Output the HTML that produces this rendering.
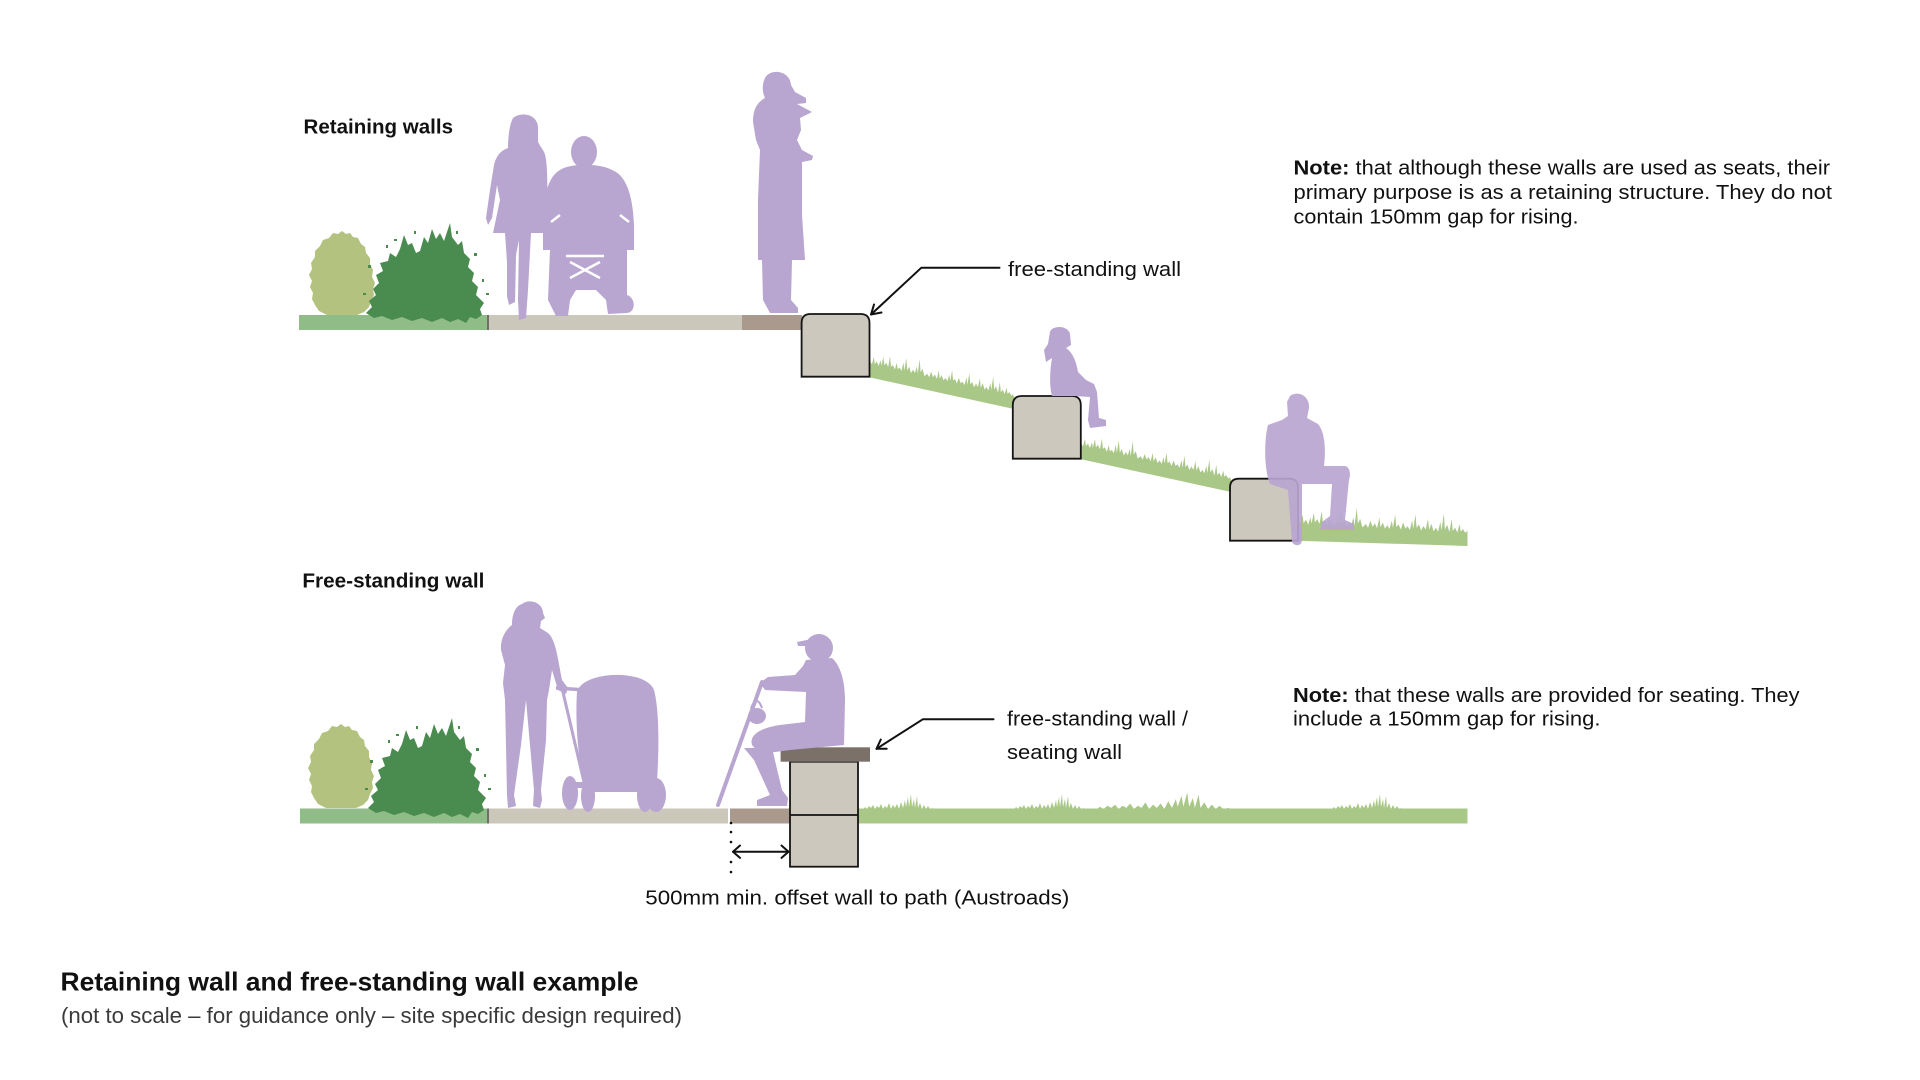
<!DOCTYPE html>
<html>
<head>
<meta charset="utf-8">
<style>
html,body{margin:0;padding:0;background:#fff;}
svg{display:block;}
text{font-family:"Liberation Sans",Arial,sans-serif;fill:#111;}
</style>
</head>
<body>
<svg width="1920" height="1080" viewBox="0 0 1920 1080" xmlns="http://www.w3.org/2000/svg">
<defs>
  <path id="g1" d="M0,2 L0,-3 L2,0 L4,-8 L5,-1 L7,-4 L9,0 L11,-6 L12,-1 L14,-10 L15,-2 L17,-5 L19,-1 L21,-12 L22,-2 L24,-4 L26,0 L28,-7 L29,-1 L31,-3 L33,0 L35,-9 L36,-1 L38,-14 L39,-2 L41,-6 L43,0 L45,-4 L47,-1 L49,-8 L50,-1 L52,-16 L53,-3 L55,-7 L57,0 L60,-3 L62,0 L64,-6 L66,-1 L68,-4 L70,0 L72,-9 L73,-1 L75,-5 L77,0 L79,-3 L81,0 L83,-7 L84,-1 L86,-12 L87,-2 L89,-4 L91,0 L93,-6 L95,-1 L97,-3 L99,0 L101,-8 L102,-1 L104,-13 L105,-2 L107,-5 L109,0 L111,-4 L113,-1 L115,-10 L116,-1 L118,-6 L120,0 L122,-3 L124,0 L126,-8 L127,-1 L129,-15 L130,-2 L132,-6 L134,0 L136,-11 L137,-1 L139,-4 L141,0 L143,-7 L144,-1 L146,-3 L148,0 L150,-2 L150,2 Z"/>
  <path id="t1" d="M0,1 L2,-2 L4,0 L6,-3 L8,-1 L10,-4 L12,0 L14,-3 L16,-1 L18,-5 L20,0 L22,-3 L24,-1 L26,-6 L28,0 L30,-4 L32,-1 L34,-5 L36,0 L38,-7 L40,-1 L42,-9 L43,-2 L45,-12 L46,-2 L48,-15 L49,-2 L51,-10 L52,-1 L54,-13 L55,-1 L57,-6 L59,0 L61,-4 L63,0 L65,-3 L67,0 L70,-1 L70,1 Z"/>
  <path id="lb" d="M33,0 L37,3 L41,2 L44,6 L49,7 L52,13 L56,16 L57,22 L61,27 L61,33 L64,39 L63,46 L66,52 L64,58 L65,64 L62,70 L60,76 L55,81 L48,84 L18,84 L10,80 L6,74 L3,68 L4,62 L1,56 L3,50 L0,44 L3,38 L2,32 L6,26 L6,20 L11,15 L14,9 L20,7 L24,2 L29,3 Z"/>
  <g id="db">
    <path d="M0,90 L6,84 L3,78 L10,72 L7,66 L13,60 L10,52 L17,48 L14,40 L22,38 L24,30 L30,34 L34,26 L38,12 L42,22 L46,20 L50,30 L54,28 L58,14 L62,20 L66,6 L70,16 L74,10 L78,18 L84,0 L86,14 L92,22 L96,18 L98,30 L104,36 L102,44 L108,50 L106,58 L112,64 L110,72 L118,80 L114,86 L116,92 L110,96 L104,94 L100,100 L92,96 L84,99 L76,95 L66,99 L56,95 L46,98 L36,94 L26,97 L16,93 L8,95 Z"/>
    <rect x="2" y="42" width="3" height="3"/><rect x="-3" y="70" width="3" height="2"/><rect x="20" y="22" width="2" height="3"/>
    <rect x="28" y="16" width="3" height="2"/><rect x="90" y="8" width="2" height="3"/><rect x="108" y="30" width="3" height="3"/>
    <rect x="116" y="56" width="2" height="3"/><rect x="120" y="70" width="3" height="2"/><rect x="48" y="8" width="2" height="3"/>
  </g>
</defs>

<!-- ================= TOP SECTION ================= -->
<rect x="299" y="315" width="188" height="15" fill="#8fbc87"/>
<rect x="487" y="315" width="2" height="15" fill="#6f7068"/>
<rect x="489" y="315" width="253" height="15" fill="#ccc7bb"/>
<rect x="742" y="315" width="60" height="15" fill="#a99a8d"/>

<use href="#lb" transform="translate(309,231)" fill="#b3c27f"/>
<use href="#db" transform="translate(366,223)" fill="#4a8c50"/>

<g fill="#a9c888">
  <polygon points="868,364 1014,396 1014,409 868,377"/>
  <polygon points="1080,446 1231,479 1231,492 1080,459"/>
  <polygon points="1297,524 1467.5,533 1467.5,546 1297,540.7"/>
  <use href="#g1" transform="translate(870,364) skewY(12.59) scale(0.955,1)"/>
  <use href="#g1" transform="translate(1081,446) skewY(12.47) scale(0.995,1)"/>
  <use href="#g1" transform="translate(1298,524) skewY(3.04) scale(1.13,1.2)"/>
</g>

<g fill="#ccc8bd" stroke="#141414" stroke-width="1.8">
  <path d="M801.6,376.7 V323 Q801.6,314 810.6,314 H860.5 Q869.5,314 869.5,323 V376.7 Z"/>
  <path d="M1012.8,458.7 V405 Q1012.8,396 1021.8,396 H1071.8 Q1080.8,396 1080.8,405 V458.7 Z"/>
  <path d="M1230,540.7 V487.7 Q1230,478.7 1239,478.7 H1289 Q1298,478.7 1298,487.7 V540.7 Z"/>
</g>

<g fill="#b8a5d0">
  <path d="M513,118 C520,112 536,113 538,126 L538,142 C540,146 542,148 544,152 C548,160 547,185 548,205 C549,212 546,220 543,214 L541,190 L545,233 L531,233 L528,290 L526,318 L519,320 L518,300 L519,240 L516,255 L515,302 L509,305 L507,296 L507,262 L505,233 L493,233 L500,200 L497,185 L492,218 L488,225 L486,218 L490,190 L494,165 C497,153 503,150 508,148 C508,140 509,125 513,118 Z"/>
  <ellipse cx="584" cy="152" rx="13" ry="16"/>
  <path d="M560,170 C570,163 600,163 612,170 C628,176 633,200 634,225 L634,250 L627,250 L627,295 C636,298 636,312 627,313 L608,314 L606,300 L596,290 L576,290 L570,300 L568,316 L556,316 L548,300 L550,250 L543,250 L543,225 C544,200 546,178 560,170 Z"/>
  <path d="M765,78 C770,68 790,70 791,85 L795,92 L806,98 L806,103 L797,104 L812,112 L800,118 L801,130 L797,140 L802,150 L813,156 L812,160 L802,162 L802,215 L805,260 L792,260 L791,300 L798,308 L798,313 L770,313 L763,300 L762,260 L758,260 L758,200 L760,150 L756,140 L753,122 C753,108 758,102 765,98 C762,92 762,84 765,78 Z"/>
  <path d="M1050,332 C1052,325 1068,325 1070,334 L1071,345 L1066,348 C1072,352 1076,360 1078,372 L1086,380 L1094,384 L1097,392 L1099,418 L1106,420 L1106,426 L1090,428 L1088,420 L1090,397 L1075,396 L1052,396 C1049,385 1050,370 1052,358 L1046,362 L1044,350 L1048,344 Z"/>
  <path opacity="0.92" d="M1290,396 C1298,390 1310,396 1309,408 L1307,418 L1318,424 C1325,432 1326,450 1324,466 L1345,466 C1350,467 1351,474 1349,480 L1345,520 L1354,524 L1354,530 L1320,530 L1322,522 L1330,516 L1332,484 L1302,484 L1302,540 C1302,546 1295,547 1292,542 L1288,490 L1270,484 C1264,470 1264,440 1268,425 L1282,420 L1288,416 L1287,402 Z"/>
</g>
<g stroke="#ffffff" stroke-width="2.5" fill="none">
  <path d="M566,256 L604,256 M570,262 L600,278 M600,262 L570,278"/>
  <path d="M551,222 L560,215 M620,215 L629,222"/>
</g>

<g stroke="#111" stroke-width="2" fill="none" stroke-linecap="round" stroke-linejoin="round">
  <polyline points="999.5,267.7 921.4,267.7 871,314.5"/>
  <polyline points="881.5,312.5 871,314.5 874,304.5"/>
</g>

<!-- ================= LOWER SECTION ================= -->
<rect x="300" y="808.5" width="187" height="15" fill="#8fbc87"/>
<rect x="487" y="808.5" width="2" height="15" fill="#6f7068"/>
<rect x="489" y="808.5" width="239" height="15" fill="#ccc7bb"/>
<rect x="730" y="808.5" width="61" height="15" fill="#a99a8d"/>
<rect x="858" y="808.5" width="609.5" height="15" fill="#a9c888"/>
<g fill="#a9c888">
  <use href="#t1" transform="translate(863,809)"/>
  <use href="#t1" transform="translate(1014,809)"/>
  <use href="#t1" transform="translate(1096,809) scale(1.9,1.1)"/>
  <use href="#t1" transform="translate(1332,809)"/>
</g>

<use href="#lb" transform="translate(308,724)" fill="#b3c27f"/>
<use href="#db" transform="translate(368,718)" fill="#4a8c50"/>

<rect x="790" y="761.7" width="68" height="105" fill="#ccc8bd" stroke="#141414" stroke-width="1.8"/>
<line x1="790" y1="815" x2="858" y2="815" stroke="#141414" stroke-width="1.8"/>
<rect x="780.6" y="747.3" width="89.4" height="14.4" fill="#7c7169"/>

<g fill="#b8a5d0">
  <path d="M522,604 C530,598 543,603 543,613 L545,618 L541,621 L540,628 L548,633 C556,640 558,660 562,680 L568,688 L566,694 L558,690 L552,670 L549,690 L547,700 L546,740 L541,790 L542,800 L540,808 L533,806 L534,790 L530,745 L526,700 L521,745 L514,795 L516,806 L508,808 L507,795 L506,745 L505,700 L503,683 L505,665 L501,650 C500,640 505,630 512,625 C512,615 515,606 522,604 Z"/>
  <path d="M577,692 C582,671 645,668 654,690 C660,712 659,762 656,792 L588,792 C578,770 575,722 577,692 Z"/>
  <rect x="566" y="782" width="96" height="6"/>
  <ellipse cx="570" cy="793" rx="8" ry="17"/>
  <ellipse cx="588" cy="796" rx="7" ry="16"/>
  <ellipse cx="645" cy="795" rx="8" ry="17"/>
  <ellipse cx="656" cy="795" rx="10" ry="17"/>
  <circle cx="819" cy="648" r="14"/>
  <path d="M797,642 L812,639 L812,646 L798,646 Z"/>
  <path d="M806,660 L832,658 C840,665 845,680 845,700 L844,745 L790,750 L760,754 L752,745 C749,735 760,728 780,725 L805,722 L806,692 L785,691 L765,690 L760,683 L768,677 L795,675 L803,666 Z"/>
  <path d="M744,748 L772,748 L782,790 L788,798 L787,806 L757,806 L757,800 L770,795 L754,760 Z"/>
  <ellipse cx="757" cy="716" rx="9" ry="8"/>
</g>
<g stroke="#b8a5d0" fill="none">
  <line x1="762" y1="682" x2="718" y2="805" stroke-width="4" stroke-linecap="round"/>
  <path d="M751,708 Q757,694 762,708" stroke-width="2"/>
  <line x1="556" y1="688" x2="586" y2="690" stroke-width="3.5"/>
  <line x1="562" y1="688" x2="584" y2="782" stroke-width="3"/>
</g>

<g stroke="#111" stroke-width="2" fill="none" stroke-linecap="round" stroke-linejoin="round">
  <polyline points="993.5,719.3 922.8,719.3 876.5,748.8"/>
  <polyline points="886.7,748.8 876.5,748.8 880.8,739.5"/>
</g>

<g fill="#111">
  <circle cx="731" cy="823" r="1.3"/>
  <circle cx="731" cy="832" r="1.3"/>
  <circle cx="731" cy="842" r="1.3"/>
  <circle cx="731" cy="862" r="1.3"/>
  <circle cx="731" cy="872" r="1.3"/>
</g>
<g stroke="#111" stroke-width="2" fill="none" stroke-linecap="round" stroke-linejoin="round">
  <line x1="733" y1="851.7" x2="788.5" y2="851.7"/>
  <polyline points="740,845.5 733,851.7 740,857.9"/>
  <polyline points="781.5,845.5 788.5,851.7 781.5,857.9"/>
</g>

<!-- ================= TEXT ================= -->
<text x="303.5" y="133.3" font-size="20" font-weight="bold" textLength="149.5" lengthAdjust="spacingAndGlyphs">Retaining walls</text>
<text x="302.4" y="587.5" font-size="20" font-weight="bold" textLength="182" lengthAdjust="spacingAndGlyphs">Free-standing wall</text>

<text x="1293.5" y="174.3" font-size="20" textLength="536.5" lengthAdjust="spacingAndGlyphs"><tspan font-weight="bold">Note:</tspan> that although these walls are used as seats, their</text>
<text x="1293.5" y="198.8" font-size="20" textLength="538.5" lengthAdjust="spacingAndGlyphs">primary purpose is as a retaining structure. They do not</text>
<text x="1293.5" y="223.3" font-size="20" textLength="285" lengthAdjust="spacingAndGlyphs">contain 150mm gap for rising.</text>

<text x="1008" y="276" font-size="20" textLength="173" lengthAdjust="spacingAndGlyphs">free-standing wall</text>

<text x="1293" y="702.2" font-size="20" textLength="506.5" lengthAdjust="spacingAndGlyphs"><tspan font-weight="bold">Note:</tspan> that these walls are provided for seating. They</text>
<text x="1293" y="725.5" font-size="20" textLength="307.5" lengthAdjust="spacingAndGlyphs">include a 150mm gap for rising.</text>

<text x="1007" y="725.7" font-size="20" textLength="181" lengthAdjust="spacingAndGlyphs">free-standing wall /</text>
<text x="1007" y="759" font-size="20" textLength="115" lengthAdjust="spacingAndGlyphs">seating wall</text>

<text x="645.3" y="904.5" font-size="20" textLength="424" lengthAdjust="spacingAndGlyphs">500mm min. offset wall to path (Austroads)</text>

<text x="60.5" y="990.5" font-size="26" font-weight="bold" textLength="578" lengthAdjust="spacingAndGlyphs">Retaining wall and free-standing wall example</text>
<text x="61" y="1023" font-size="22" style="fill:#3a3a3a" textLength="621" lengthAdjust="spacingAndGlyphs">(not to scale – for guidance only – site specific design required)</text>
</svg>
</body>
</html>
